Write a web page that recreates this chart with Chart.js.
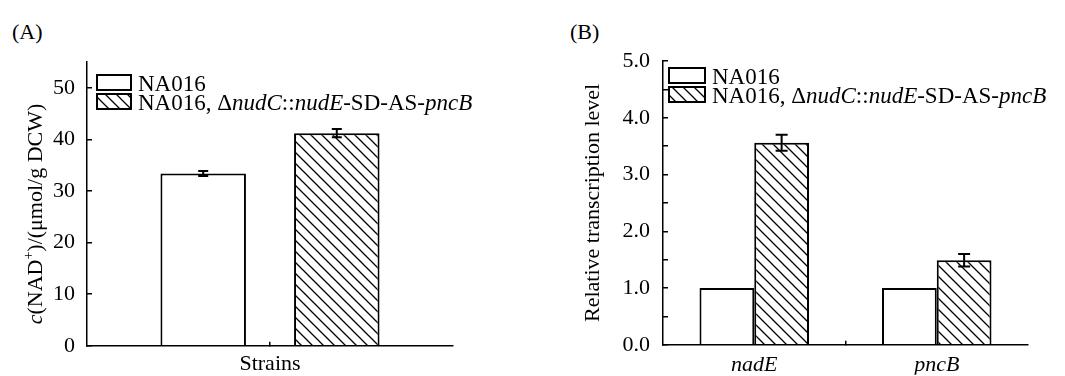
<!DOCTYPE html>
<html>
<head>
<meta charset="utf-8">
<script src="https://cdn.jsdelivr.net/npm/chart.js@4.4.1/dist/chart.umd.min.js"></script>
<style>
  html, body { margin: 0; padding: 0; background: #fff; }
  #wrap { position: relative; width: 1065px; height: 376px; }
  .panel { position: absolute; top: 0; height: 376px; }
  #panelA { left: 0; width: 530px; }
  #panelB { left: 530px; width: 535px; }
  .tag { position: absolute; top: 19px; font: 22px "Liberation Serif", serif; }
</style>
</head>
<body>
<div id="wrap">
  <div class="tag" style="left:12px">(A)</div>
  <div class="tag" style="left:570px">(B)</div>
  <div class="panel" id="panelA"><canvas id="chartA" width="530" height="376"></canvas></div>
  <div class="panel" id="panelB"><canvas id="chartB" width="535" height="376"></canvas></div>
</div>
<script>
// ---- data ----
const seriesNames = ["NA016", "NA016, ΔnudC::nudE-SD-AS-pncB"];

// panel A: NAD+ content
const categoriesA = ["Strains"];
const wildA = [33.4];
const wildErrA = [0.5];
const mutA = [41.2];
const mutErrA = [0.8];

// panel B: relative transcription
const categoriesB = ["nadE", "pncB"];
const wildB = [1.0, 1.0];
const wildErrB = [0, 0];
const mutB = [3.56, 1.49];
const mutErrB = [0.14, 0.11];

// legend label pieces (normal / italic)
const mutLabelParts = [
  ["NA016, Δ", false], ["nudC", true], ["::", false], ["nudE", true],
  ["-SD-AS-", false], ["pncB", true]
];

const FONT = '"Liberation Serif", serif';

// hatch pattern like "\\\\"
function makeHatch() {
  const s = 11;
  const c = document.createElement("canvas");
  c.width = s; c.height = s;
  const g = c.getContext("2d");
  g.fillStyle = "#fff";
  g.fillRect(0, 0, s, s);
  g.strokeStyle = "#000";
  g.lineWidth = 1.3;
  g.beginPath();
  g.moveTo(0, 0); g.lineTo(s, s);
  g.moveTo(-2, s - 2); g.lineTo(2, s + 2);
  g.moveTo(s - 2, -2); g.lineTo(s + 2, 2);
  g.stroke();
  return document.getElementById("chartA").getContext("2d").createPattern(c, "repeat");
}
const hatch = makeHatch();

function drawParts(ctx, parts, x, y, size) {
  parts.forEach(([txt, it]) => {
    ctx.font = (it ? "italic " : "") + size + "px " + FONT;
    ctx.fillText(txt, x, y);
    x += ctx.measureText(txt).width;
  });
}

// error bars from dataset.errors
const errorBars = {
  id: "errorBars",
  afterDatasetsDraw(chart, args, opts) {
    const ctx = chart.ctx;
    const y = chart.scales.y;
    ctx.save();
    ctx.strokeStyle = "#000";
    ctx.lineWidth = 2;
    chart.data.datasets.forEach((ds, i) => {
      chart.getDatasetMeta(i).data.forEach((bar, j) => {
        const e = ds.errors[j];
        if (!e) return;
        const top = y.getPixelForValue(ds.data[j] + e);
        const bot = y.getPixelForValue(ds.data[j] - e);
        const w = opts.cap;
        ctx.beginPath();
        ctx.moveTo(bar.x, top); ctx.lineTo(bar.x, bot);
        ctx.moveTo(bar.x - w, top); ctx.lineTo(bar.x + w, top);
        ctx.moveTo(bar.x - w, bot); ctx.lineTo(bar.x + w, bot);
        ctx.stroke();
      });
    });
    ctx.restore();
  }
};

// legend drawn inside the plot, with italic gene names
const boxLegend = {
  id: "boxLegend",
  afterDraw(chart, args, opts) {
    const ctx = chart.ctx;
    ctx.save();
    ctx.lineWidth = 2;
    ctx.strokeStyle = "#000";
    ctx.fillStyle = "#000";
    ctx.textBaseline = "alphabetic";
    const fills = ["#fff", hatch];
    const labels = [[[seriesNames[0], false]], mutLabelParts];
    opts.rows.forEach((ry, i) => {
      ctx.fillStyle = fills[i];
      ctx.fillRect(opts.x, ry, opts.w, opts.h);
      ctx.strokeRect(opts.x, ry, opts.w, opts.h);
      ctx.fillStyle = "#000";
      drawParts(ctx, labels[i], opts.x + opts.w + 7, ry + opts.h + 1, 23);
    });
    ctx.restore();
  }
};

// y title for panel A with italic c and superscript +
const titleA = {
  id: "titleA",
  afterDraw(chart) {
    const ctx = chart.ctx;
    ctx.save();
    ctx.translate(36, 214);
    ctx.rotate(-Math.PI / 2);
    ctx.fillStyle = "#000";
    ctx.textBaseline = "middle";
    const parts = [["c", true, 22, 0], ["(NAD", false, 22, 0], ["+", false, 14, -7], [")/(μmol/g DCW)", false, 22, 0]];
    let total = 0;
    parts.forEach(p => {
      ctx.font = (p[1] ? "italic " : "") + p[2] + "px " + FONT;
      total += ctx.measureText(p[0]).width;
    });
    let x = -total / 2;
    parts.forEach(p => {
      ctx.font = (p[1] ? "italic " : "") + p[2] + "px " + FONT;
      ctx.fillText(p[0], x, p[3]);
      x += ctx.measureText(p[0]).width;
    });
    ctx.restore();
  }
};

function barSets(w, we, m, me, bp) {
  return [
    { label: seriesNames[0], data: w, errors: we, backgroundColor: "#fff",
      borderColor: "#000", borderWidth: 2, barPercentage: bp },
    { label: seriesNames[1], data: m, errors: me, backgroundColor: hatch,
      borderColor: "#000", borderWidth: 2, barPercentage: bp }
  ];
}

// ---- panel A ----
new Chart(document.getElementById("chartA"), {
  type: "bar",
  data: { labels: categoriesA, datasets: barSets(wildA, wildErrA, mutA, mutErrA, 0.64) },
  options: {
    responsive: false,
    animation: false,
    events: [],
    layout: { padding: { left: 0, top: 62, right: 77, bottom: 0 } },
    datasets: { bar: { categoryPercentage: 0.73 } },
    plugins: {
      legend: { display: false },
      tooltip: { enabled: false },
      errorBars: { cap: 5 },
      boxLegend: { x: 97, w: 34, h: 15, rows: [75, 94] }
    },
    scales: {
      x: {
        grid: { display: true, drawOnChartArea: false, offset: false, tickLength: -4, color: "#000", lineWidth: 1.5 },
        border: { display: true, color: "#000", width: 1.5 },
        ticks: { color: "#000", font: { family: FONT, size: 22 }, padding: 9 },
        afterFit(s) { s.height = 28; }
      },
      y: {
        min: 0, max: 55,
        grid: { display: true, drawOnChartArea: false, tickLength: -5, color: "#000", lineWidth: 1.5 },
        border: { display: true, color: "#000", width: 1.5 },
        ticks: {
          stepSize: 5, color: "#000", font: { family: FONT, size: 22 }, padding: 17,
          callback: v => (v % 10 === 0 ? v : "")
        },
        afterFit(s) { s.width = 87; }
      }
    }
  },
  plugins: [errorBars, boxLegend, titleA]
});

// ---- panel B ----
new Chart(document.getElementById("chartB"), {
  type: "bar",
  data: { labels: categoriesB, datasets: barSets(wildB, wildErrB, mutB, mutErrB, 1.0) },
  options: {
    responsive: false,
    animation: false,
    events: [],
    layout: { padding: { left: 0, top: 61, right: 37, bottom: 0 } },
    datasets: { bar: { categoryPercentage: 0.6 } },
    plugins: {
      legend: { display: false },
      tooltip: { enabled: false },
      errorBars: { cap: 6 },
      boxLegend: { x: 139, w: 36, h: 15, rows: [68, 87] }
    },
    scales: {
      x: {
        grid: {
          display: true, drawOnChartArea: false, offset: true, tickLength: -4, lineWidth: 1.5,
          color: c => (c.index === 1 ? "#000" : "rgba(0,0,0,0)")
        },
        border: { display: true, color: "#000", width: 1.5 },
        ticks: { color: "#000", font: { family: FONT, size: 22, style: "italic" }, padding: 11 },
        afterFit(s) { s.height = 30; }
      },
      y: {
        min: 0, max: 5,
        grid: { display: true, drawOnChartArea: false, tickLength: -5, color: "#000", lineWidth: 1.5 },
        border: { display: true, color: "#000", width: 1.5 },
        ticks: {
          stepSize: 0.5, color: "#000", font: { family: FONT, size: 22 }, padding: 18,
          callback: v => (Math.abs(v - Math.round(v)) < 1e-6 ? v.toFixed(1) : "")
        },
        title: {
          display: true, text: "Relative transcription level", color: "#000",
          font: { family: FONT, size: 22 }, padding: { top: 50, bottom: 0 }
        },
        afterFit(s) { s.width = 133; }
      }
    }
  },
  plugins: [errorBars, boxLegend]
});
</script>
</body>
</html>
